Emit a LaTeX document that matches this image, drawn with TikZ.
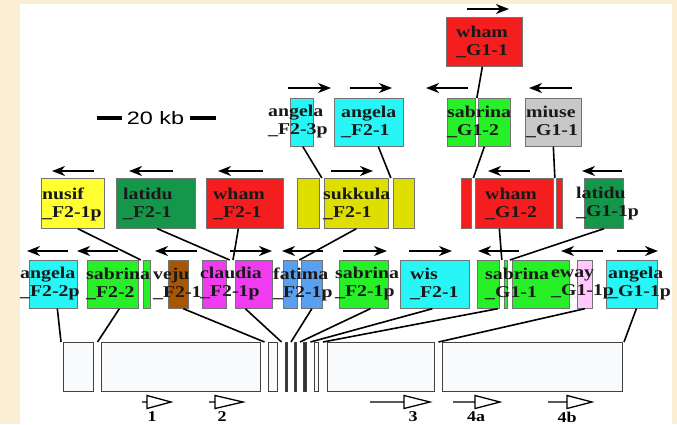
\documentclass[tikz,border=0pt]{standalone}
\usepackage{fontspec}
\usetikzlibrary{calc,arrows.meta}
\newfontfamily\lblfont{Liberation Serif}[FakeStretch=1.2]
\newfontfamily\kbfont{Liberation Sans}[FakeStretch=1.3]
\definecolor{cyanT}{RGB}{40,245,245}
\definecolor{greenT}{RGB}{40,240,40}
\definecolor{dgreenT}{RGB}{20,150,75}
\definecolor{redT}{RGB}{245,30,30}
\definecolor{yellowT}{RGB}{255,255,50}
\definecolor{oliveT}{RGB}{222,222,0}
\definecolor{grayT}{RGB}{200,200,200}
\definecolor{brownT}{RGB}{170,85,0}
\definecolor{magT}{RGB}{240,60,240}
\definecolor{blueT}{RGB}{90,160,240}
\definecolor{pinkT}{RGB}{255,200,255}
\definecolor{barT}{RGB}{249,250,252}
\definecolor{bgT}{RGB}{250,238,212}

\begin{document}
\begin{tikzpicture}[x=1pt,y=-1pt,
		te/.style={draw=black!55, line width=0.7pt, inner sep=0pt, anchor=north west},
		bar/.style={te, draw=black!75, line width=1pt, fill=barT},
		lbl/.style={font=\lblfont\bfseries\fontsize{16.5}{18}\selectfont, align=left, inner sep=0pt, anchor=west, text=black!90},
		numl/.style={font=\lblfont\bfseries\fontsize{15}{15}\selectfont, inner sep=0pt},
		ins/.style={line width=1.6pt},
		dir/.style={line width=1.8pt, -{Stealth[length=13pt,width=10pt,inset=4pt]}},
		prom/.style={line width=1.3pt, line join=miter},
		sbar/.style={line width=4pt}]
	\useasboundingbox (0,0) rectangle (677,424);
	\fill[bgT] (0,0) rectangle (677,424);
	\fill[white] (20,4) rectangle (672,424);
	% elements: name/left/right/top/height/colour
	\foreach \n/\a/\b/\t/\h/\c in {
			wG11/446/522/17/49/redT,
			aF23p/290/313/98/48/cyanT, aF21/334/403/98/48/cyanT,
			sG12a/447/475/98/48/greenT, sG12b/478/510/98/48/greenT,
			mG11/525/581/98/48/grayT,
			nF21p/41/104/178/50/yellowT, lF21/116/195/178/50/dgreenT,
			wF21/206/283/178/50/redT,
			skA/297/319/178/50/oliveT, skB/324/388/178/50/oliveT, skC/393/414/178/50/oliveT,
			wG12a/461/471/178/50/redT, wG12b/475/553/178/50/redT, wG12c/556/562/178/50/redT,
			lG11p/584/623/178/50/dgreenT,
			aF22p/29/77/260/48/cyanT,
			sF22a/87/138/260/48/greenT, sF22b/143/150/260/48/greenT,
			vF21/168/188/260/48/brownT,
			cF21pa/202/226/260/48/magT, cF21pb/235/272/260/48/magT,
			fF21pa/283/297/260/48/blueT, fF21pb/301/322/260/48/blueT,
			sF21p/339/388/260/48/greenT, wsF21/400/469/260/48/cyanT,
			sG11a/477/499/260/48/greenT, sG11b/504/507/260/48/greenT, sG11c/512/569/260/48/greenT,
			eG11p/577/592/260/48/pinkT, aG11p/606/657/260/48/cyanT}
		\node[te, fill=\c, minimum width={\b-\a}, minimum height=\h] (\n) at (\a,\t) {};
	% map
	\foreach \n/\a/\b/\c in {bA/63/93/barT, bB/101/260/barT, bC/268/277/barT,
			bD/285/287/black!80, bE/294/296/black!80, bF/303/306/black!80,
			bG/314/318/barT, bH/327/434/barT, bI/442/622/barT}
		\node[bar, fill=\c, minimum width={\b-\a}, minimum height=49] (\n) at (\a,342) {};
	% labels
	\foreach \n/\x/\y/\t in {
			wG11/456/42/{wham\\\_G1-1},
			aF23p/268/122/{angela\\\_F2-3p}, aF21/341/122/{angela\\\_F2-1},
			sG12/447/122/{sabrina\\\_G1-2}, mG11/526/122/{miuse\\\_G1-1},
			nF21p/42/204/{nusif\\\_F2-1p}, lF21/123/204/{latidu\\\_F2-1},
			wF21/213/204/{wham\\\_F2-1}, sk/323/204/{sukkula\\\_F2-1},
			wG12/485/204/{wham\\\_G1-2}, lG11p/576/204/{latidu\\\_G1-1p},
			aF22p/20/284/{angela\\\_F2-2p}, sF22/86/284/{sabrina\\\_F2-2},
			vF21/153/284/{veju\\\_F2-1}, cF21p/200/284/{claudia\\\_F2-1p},
			fF21p/273/284/{fatima\\\_F2-1p}, sF21p/335/284/{sabrina\\\_F2-1p},
			wsF21/410/284/{wis\\\_F2-1}, sG11/485/284/{sabrina\\\_G1-1},
			eG11p/551/284/{eway\\\_G1-1p}, aG11p/608/284/{angela\\\_G1-1p}}
		\node[lbl] (\n-l) at (\x,\y) {\t};
	% orientation arrows
	\foreach \y/\a/\b in {9/467/509,
			88/288/331, 88/350/392, 88/468/426, 88/572/529,
			171/94/52, 171/173/129, 171/263/218, 171/331/373, 171/530/488, 171/622/582,
			251/68/27, 251/118/77, 251/197/155, 251/230/272, 251/323/282,
			251/343/387, 251/409/452, 251/519/478, 251/603/561, 251/617/658}
		\draw[dir] (\a,\y) -- (\b,\y);
	% insertions
	\draw[ins] ([xshift=-2]wG11.south) -- ($(sG12a.north east)!.5!(sG12b.north west)$);
	\draw[ins] ([xshift=1]aF23p.south) -- ($(skA.north east)!.5!(skB.north west)$);
	\draw[ins] ([xshift=9.5]aF21.south) -- ($(skB.north east)!.5!(skC.north west)$);
	\draw[ins] ([xshift=-10]sG12b.south) -- ($(wG12a.north east)!.5!(wG12b.north west)$);
	\draw[ins] (mG11.south) -- ($(wG12b.north east)!.5!(wG12c.north west)$);
	\draw[ins] ([xshift=5]nF21p.south) -- ($(sF22a.north east)!.5!(sF22b.north west)$);
	\draw[ins] ([xshift=1.5]lF21.south) -- ([xshift=3]cF21pa.north east);
	\draw[ins] ([xshift=-6.5]wF21.south) -- ([xshift=-2]cF21pb.north west);
	\draw[ins] (skB.south) -- ($(fF21pa.north east)!.5!(fF21pb.north west)$);
	\draw[ins] ([xshift=-15]wG12b.south) -- ($(sG11a.north east)!.5!(sG11b.north west)$);
	\draw[ins] (lG11p.south) -- ($(sG11b.north east)!.5!(sG11c.north west)$);
	\draw[ins] ([xshift=4]aF22p.south) -- ([xshift=-2]bA.north west);
	\draw[ins] ([xshift=6.5]sF22a.south) -- ($(bA.north east)!.5!(bB.north west)$);
	\draw[ins] ([xshift=5]vF21.south) -- ($(bB.north east)!.5!(bC.north west)$);
	\draw[ins] ([xshift=-8.5]cF21pb.south) -- ($(bC.north east)!.5!(bD.north west)$);
	\draw[ins] (fF21pb.south) -- ($(bD.north east)!.5!(bE.north west)$);
	\draw[ins] ([xshift=6.5]sF21p.south) -- ($(bE.north east)!.5!(bF.north west)$);
	\draw[ins] ([xshift=-2.5]wsF21.south) -- ($(bF.north east)!.5!(bG.north west)$);
	\draw[ins] ([xshift=-2]sG11a.south east) -- ($(bG.north east)!.5!(bH.north west)$);
	\draw[ins] (eG11p.south) -- ($(bH.north east)!.5!(bI.north west)$);
	\draw[ins] ([xshift=4.5]aG11p.south) -- ([xshift=1]bI.north east);
	% promoters
	\foreach \s/\b/\t/\lx/\n in {142/147/171/152/1, 209/215/243/222/2,
			370/404/430/413/3, 453/475/500/476/4a, 548/567/592/567/4b} {
		\draw[prom] (\s,402) -- (\b,402) (\b,395.5) -- (\t,402) -- (\b,408.5) -- cycle;
		\node[numl] (p\n) at (\lx,417) {\n};
	}
	% scale
	\node[font=\kbfont\fontsize{18}{18}\selectfont, inner sep=0pt] (kb) at (155.5,118) {20 kb};
	\draw[sbar] ([xshift=-5]kb.west) -- ++(-25,0);
	\draw[sbar] ([xshift=6]kb.east) -- ++(26,0);
\end{tikzpicture}
\end{document}
